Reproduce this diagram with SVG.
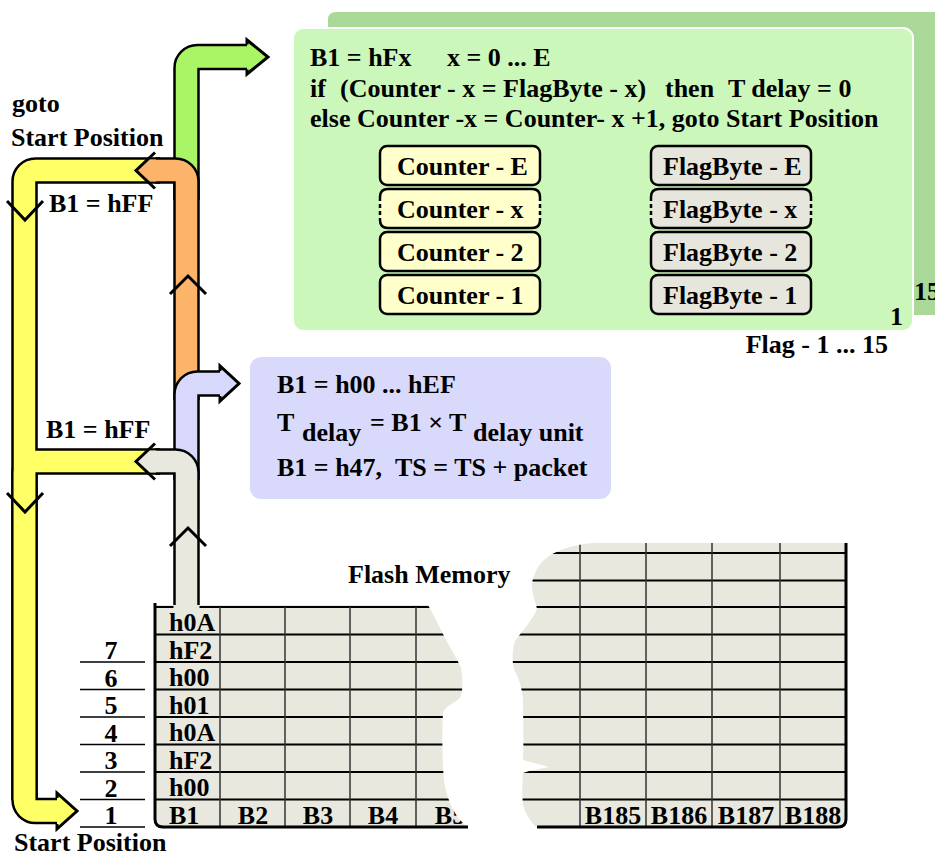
<svg xmlns="http://www.w3.org/2000/svg" width="935" height="857" viewBox="0 0 935 857">
<defs>
<style>
text{font-family:"Liberation Serif","Times New Roman",serif;font-weight:bold;font-size:26px;fill:#000}
.ol{fill:none;stroke:#000;stroke-width:26.5}
.band{fill:none;stroke-width:21.5}
.chev{fill:none;stroke:#000;stroke-width:3;stroke-linejoin:miter}
.rl{stroke:#000;stroke-width:2}
.cl{stroke:#333;stroke-width:1.5}
.lbl{stroke:#000;stroke-width:1.5}
.bd{fill:none;stroke:#000;stroke-width:3}
.cbox{fill:#ffffcc;stroke:#000;stroke-width:2.5}
.fbox{fill:#e6e6dc;stroke:#000;stroke-width:2.5}
.dash{fill:none;stroke:#000;stroke-width:2.5;stroke-dasharray:4 3}
.solid{fill:none;stroke:#000;stroke-width:2.5}
.mid{text-anchor:middle}
</style>
<clipPath id="clipL"><path d="M 155 605 H 428 C 432 612 436 620 441 630 C 447 643 456 656 461 668 C 463 680 463 692 460 698 C 455 703 447 705 443 712 C 442 730 442 760 444 780 C 446 796 452 810 460 820 L 468 828 H 163 Q 155 828 155 820 Z"/></clipPath>
<clipPath id="clipR"><path d="M 846 543 H 595 C 576 544 560 549 549 556 C 539 563 533 573 532 585 C 532 596 536 602 537 609 C 532 621 522 631 515 641 C 512 651 512 661 514 669 C 518 677 522 686 523 700 C 523 720 524 740 523 760 C 531 762 541 765 549 767 C 541 769 531 770 523 773 C 522 785 522 795 523 805 C 526 815 531 822 537 828 H 838 Q 846 828 846 820 Z"/></clipPath>
</defs>
<rect width="935" height="857" fill="#fff"/>

<g id="green-panel">
<path d="M 336 12 H 935 V 315 H 328 V 20 Q 328 12 336 12 Z" fill="#aad898"/>
<rect x="293" y="28" width="620" height="303" rx="10" fill="#ccf7ba" stroke="#fff" stroke-width="2"/>
<text x="310" y="66">B1 = hFx</text>
<text x="447" y="66">x = 0 ... E</text>
<text y="97"><tspan x="310">if</tspan><tspan x="340">(Counter - x = FlagByte - x)</tspan><tspan x="665">then</tspan><tspan x="728">T delay = 0</tspan></text>
<text x="310" y="127">else Counter -x = Counter- x +1, goto Start Position</text>
<text x="914" y="300">15</text>
<text x="890" y="325">1</text>
</g>
<text x="888" y="353" text-anchor="end">Flag - 1 ... 15</text>

<g id="counter-E"><rect class="cbox" x="380" y="146" width="160" height="39" rx="7"/><text x="397" y="175">Counter - E</text></g>
<g id="counter-x"><rect x="380" y="189" width="160" height="39" rx="7" fill="#ffffcc"/>
<path class="solid" d="M 380 197 Q 380 189 388 189 H 532 Q 540 189 540 197 M 380 220 Q 380 228 388 228 H 532 Q 540 228 540 220"/>
<path class="dash" d="M 380 197 V 220 M 540 197 V 220"/><text x="397" y="218">Counter - x</text></g>
<g id="counter-2"><rect class="cbox" x="380" y="232" width="160" height="39" rx="7"/><text x="397" y="261">Counter - 2</text></g>
<g id="counter-1"><rect class="cbox" x="380" y="275" width="160" height="39" rx="7"/><text x="397" y="304">Counter - 1</text></g>

<g id="flag-E"><rect class="fbox" x="651" y="146" width="160" height="39" rx="7"/><text x="663" y="175">FlagByte - E</text></g>
<g id="flag-x"><rect x="651" y="189" width="160" height="39" rx="7" fill="#e6e6dc"/>
<path class="solid" d="M 651 197 Q 651 189 659 189 H 803 Q 811 189 811 197 M 651 220 Q 651 228 659 228 H 803 Q 811 228 811 220"/>
<path class="dash" d="M 651 197 V 220 M 811 197 V 220"/><text x="663" y="218">FlagByte - x</text></g>
<g id="flag-2"><rect class="fbox" x="651" y="232" width="160" height="39" rx="7"/><text x="663" y="261">FlagByte - 2</text></g>
<g id="flag-1"><rect class="fbox" x="651" y="275" width="160" height="39" rx="7"/><text x="663" y="304">FlagByte - 1</text></g>

<g id="blue-panel">
<rect x="250" y="357" width="361" height="142" rx="11" fill="#d9d9fb"/>
<text x="277" y="393">B1 = h00 ... hEF</text>
<text x="277" y="431">T</text><text x="302" y="441">delay</text><text x="370" y="431">= B1 × T</text><text x="473" y="441">delay unit</text>
<text x="277" y="476">B1 = h47,</text><text x="395" y="476">TS = TS + packet</text>
</g>

<g id="labels">
<text x="12" y="112">goto</text>
<text x="11" y="146">Start Position</text>
<text x="49" y="212">B1 = hFF</text>
<text x="46" y="438">B1 = hFF</text>
<text x="14" y="851">Start Position</text>
<text x="348" y="583">Flash Memory</text>
</g>

<g id="connectors">
<g id="yellow-arrows">
<path class="ol" d="M 160 170.5 H 35.5 A 11 11 0 0 0 24.5 181.5 V 800 A 11 11 0 0 0 35.5 811 H 57"/>
<path class="ol" d="M 160 461.5 H 35.5 A 11 11 0 0 0 24.5 472.5 V 800"/>
<path class="band" stroke="#ffff66" d="M 160 170.5 H 35.5 A 11 11 0 0 0 24.5 181.5 V 800 A 11 11 0 0 0 35.5 811 H 57"/>
<path class="band" stroke="#ffff66" d="M 160 461.5 H 35.5 A 11 11 0 0 0 24.5 472.5 V 800"/>
<polygon points="57,793 77,811 57,829" fill="#ffff66"/>
<polyline class="chev" points="57,798 57,793 77,811 57,829 57,824"/>
<polyline class="chev" points="7,201 25,220 43,201"/>
<polyline class="chev" points="7,493 25,512 43,493"/>
</g>
<g id="green-arrow">
<path class="ol" d="M 186.5 200 V 68 A 11 11 0 0 1 197.5 57 H 247"/>
<path class="band" stroke="#aaf566" d="M 186.5 200 V 68 A 11 11 0 0 1 197.5 57 H 247"/>
<polygon points="247,40 268,57 247,74" fill="#aaf566"/>
<polyline class="chev" points="247,44.5 247,40 268,57 247,74 247,69.5"/>
</g>
<g id="orange-arrow">
<path class="ol" d="M 186.5 400 V 181.5 A 11 11 0 0 0 175.5 170.5 H 155"/>
<path class="band" stroke="#fbb46a" d="M 186.5 400 V 181.5 A 11 11 0 0 0 175.5 170.5 H 155"/>
<polygon points="156,159.5 147.6,159.5 136,170.5 147.6,181.5 156,181.5" fill="#fbb46a"/>
<polyline class="chev" points="155,152.5 136,170.5 155,188.5"/>
<polyline class="chev" points="170,294 188,276 206,294"/>
</g>
<g id="blue-arrow">
<path class="ol" d="M 186.5 480 V 394.5 A 11 11 0 0 1 197.5 383.5 H 220"/>
<path class="band" stroke="#d8d8fc" d="M 186.5 480 V 394.5 A 11 11 0 0 1 197.5 383.5 H 220"/>
<polygon points="220,366 239,383.5 220,401" fill="#d8d8fc"/>
<polyline class="chev" points="220,371 220,366 239,383.5 220,401 220,396"/>
</g>
<g id="gray-arrow">
<path class="ol" d="M 186.5 612 V 472.5 A 11 11 0 0 0 175.5 461.5 H 155"/>
<path class="band" stroke="#e8e8de" d="M 186.5 612 V 472.5 A 11 11 0 0 0 175.5 461.5 H 155"/>
<polygon points="156,450.5 147.6,450.5 136,461.5 147.6,472.5 156,472.5" fill="#e8e8de"/>
<polyline class="chev" points="155,443.5 136,461.5 155,479.5"/>
<polyline class="chev" points="170,546 188,528 206,546"/>
</g>
</g>

<g id="flash-left">
<path d="M 155 605 H 428 C 432 612 436 620 441 630 C 447 643 456 656 461 668 C 463 680 463 692 460 698 C 455 703 447 705 443 712 C 442 730 442 760 444 780 C 446 796 452 810 460 820 L 468 828 H 163 Q 155 828 155 820 Z" fill="#e8e8de"/>
<g clip-path="url(#clipL)">
<path class="rl" d="M 155 607 H 173.5 M 199.5 607 H 480 M 155 634.5 H 480 M 155 662 H 480 M 155 689.5 H 480 M 155 717 H 480 M 155 744.5 H 480 M 155 772 H 480 M 155 799.5 H 480"/>
<path class="cl" d="M 220 607 V 828 M 285 607 V 828 M 350 607 V 828 M 416 607 V 828"/>
<text x="169" y="631">h0A</text>
<text x="169" y="658.5">hF2</text>
<text x="169" y="686">h00</text>
<text x="169" y="713.5">h01</text>
<text x="169" y="741">h0A</text>
<text x="169" y="768.5">hF2</text>
<text x="169" y="796">h00</text>
<text x="169" y="823.5">B1</text>
<text class="mid" x="253" y="823.5">B2</text>
<text class="mid" x="318" y="823.5">B3</text>
<text class="mid" x="383" y="823.5">B4</text>
<text class="mid" x="450" y="823.5">B5</text>
</g>
<path class="bd" d="M 155 603 V 819 Q 155 827 163 827 H 468"/>
</g>

<g id="flash-right">
<path d="M 846 543 H 595 C 576 544 560 549 549 556 C 539 563 533 573 532 585 C 532 596 536 602 537 609 C 532 621 522 631 515 641 C 512 651 512 661 514 669 C 518 677 522 686 523 700 C 523 720 524 740 523 760 C 531 762 541 765 549 767 C 541 769 531 770 523 773 C 522 785 522 795 523 805 C 526 815 531 822 537 828 H 838 Q 846 828 846 820 Z" fill="#e8e8de"/>
<g clip-path="url(#clipR)">
<path class="rl" d="M 500 553 H 846 M 500 580.5 H 846 M 500 607 H 846 M 500 634.5 H 846 M 500 662 H 846 M 500 689.5 H 846 M 500 717 H 846 M 500 744.5 H 846 M 500 772 H 846 M 500 799.5 H 846"/>
<path class="cl" d="M 580 543 V 828 M 646 543 V 828 M 712 543 V 828 M 780 543 V 828"/>
<text class="mid" x="613" y="823.5">B185</text>
<text class="mid" x="679" y="823.5">B186</text>
<text class="mid" x="746" y="823.5">B187</text>
<text class="mid" x="813" y="823.5">B188</text>
</g>
<path class="bd" d="M 537 827 H 838 Q 846 827 846 819 V 543"/>
</g>

<g id="row-numbers">
<path class="lbl" d="M 80 662 H 145 M 80 689.5 H 145 M 80 717 H 145 M 80 744.5 H 145 M 80 772 H 145 M 80 799.5 H 145 M 80 827 H 145"/>
<text class="mid" x="111" y="659">7</text>
<text class="mid" x="111" y="686.5">6</text>
<text class="mid" x="111" y="714">5</text>
<text class="mid" x="111" y="741.5">4</text>
<text class="mid" x="111" y="769">3</text>
<text class="mid" x="111" y="796.5">2</text>
<text class="mid" x="111" y="824">1</text>
</g>
</svg>
